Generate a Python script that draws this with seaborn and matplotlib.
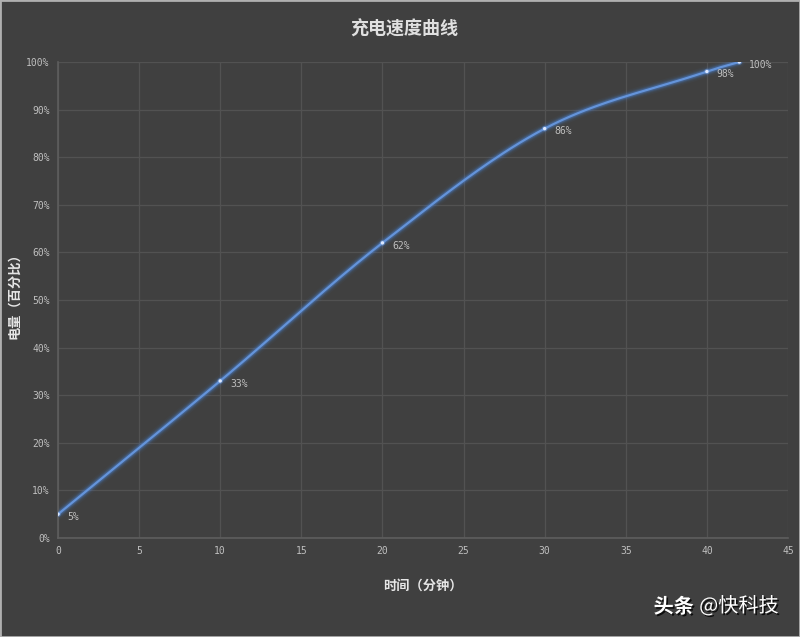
import numpy as np
import pandas as pd
import matplotlib
matplotlib.use('Agg')
import matplotlib.pyplot as plt
import matplotlib.patheffects as pe
from matplotlib.ticker import PercentFormatter
import seaborn as sns

# dữ liệu: thời gian (phút) và mức pin (%)
minutes = [0, 10, 20, 30, 40, 42]
battery = [5, 33, 62, 86, 98, 100]
labels = ['5%', '33%', '62%', '86%', '98%', '100%']

df = pd.DataFrame({'minutes': minutes, 'battery': battery})

BG = '#404040'
GRID = '#525252'
TXT = '#bfbfbf'
LINE = '#6494da'

sns.set_theme(style='dark')
plt.rcParams['font.family'] = ['Noto Sans CJK SC', 'DejaVu Sans']
plt.rcParams['axes.unicode_minus'] = False

fig = plt.figure(figsize=(8, 6.37), dpi=100, facecolor=BG)
ax = fig.add_axes([0.0725, 0.1554, 0.9125, 0.7473])
ax.set_facecolor(BG)


def smooth(xs, ys, n=40):
    # đường cong mượt (Hermite, độ dốc theo hiệu hữu hạn) giống Excel
    x = np.asarray(xs, float)
    y = np.asarray(ys, float)
    m = np.empty_like(y)
    m[1:-1] = (y[2:] - y[:-2]) / (x[2:] - x[:-2])
    m[0] = (y[1] - y[0]) / (x[1] - x[0])
    m[-1] = (y[-1] - y[-2]) / (x[-1] - x[-2])
    out_x, out_y = [], []
    t = np.linspace(0, 1, n)
    for i in range(len(x) - 1):
        h = x[i + 1] - x[i]
        h00 = 2 * t ** 3 - 3 * t ** 2 + 1
        h10 = t ** 3 - 2 * t ** 2 + t
        h01 = -2 * t ** 3 + 3 * t ** 2
        h11 = t ** 3 - t ** 2
        out_x.extend(x[i] + h * t)
        out_y.extend(h00 * y[i] + h10 * h * m[i] + h01 * y[i + 1] + h11 * h * m[i + 1])
    return np.array(out_x), np.array(out_y)


sx, sy = smooth(df['minutes'], df['battery'])

# hiệu ứng phát sáng
for w, a in [(8, 0.05), (6, 0.09), (4.5, 0.18), (3.2, 0.35)]:
    ax.plot(sx, sy, color='#4a7cc8', lw=w, alpha=a, solid_capstyle='round', zorder=2)
ax.plot(sx, sy, color=LINE, lw=1.6, solid_capstyle='round', zorder=3)

sns.scatterplot(data=df, x='minutes', y='battery', ax=ax, s=16, color='#6f9de0',
                alpha=0.45, edgecolor='none', zorder=4)
sns.scatterplot(data=df, x='minutes', y='battery', ax=ax, s=6, color='#dce8ff',
                edgecolor='none', zorder=5)

for x, y, lab in zip(minutes, battery, labels):
    ax.annotate(lab, (x, y), xytext=(7, -2), textcoords='offset points',
                fontsize=7, color=TXT, va='center', ha='left',
                family=['DejaVu Sans Mono', 'DejaVu Sans'])

ax.set_xlim(0, 45)
ax.set_ylim(0, 100)
ax.set_xticks(range(0, 46, 5))
ax.set_yticks(range(0, 101, 10))
ax.yaxis.set_major_formatter(PercentFormatter(decimals=0))
ax.tick_params(colors=TXT, labelsize=7, length=0, pad=6)
for t in ax.get_xticklabels() + ax.get_yticklabels():
    t.set_family(['DejaVu Sans Mono', 'DejaVu Sans'])
ax.grid(True, color=GRID, lw=0.9)
for s in ['top', 'right']:
    ax.spines[s].set_visible(False)
for s in ['left', 'bottom']:
    ax.spines[s].set_color('#5e5e5e')
    ax.spines[s].set_linewidth(1.2)

ax.set_xlabel('时间（分钟）', color='#e6e6e6', fontsize=9.5, fontweight='bold', labelpad=16)
ax.set_ylabel('')
fig.text(0.018, 0.54, '电量（百分比）', rotation=90, ha='center', va='center',
         color='#e6e6e6', fontsize=9.5, fontweight='bold')

fig.text(0.505, 0.955, '充电速度曲线', ha='center', va='center', color='#e0e0e0',
         fontsize=13, fontweight='bold')

shadow = [pe.withSimplePatchShadow(offset=(1.2, -1.2), shadow_rgbFace='black', alpha=0.8)]
fig.text(0.817, 0.048, '头条', ha='left', va='center', color='white', fontsize=14.5,
         fontweight='bold', path_effects=shadow)
fig.text(0.874, 0.048, '@快科技', ha='left', va='center', color='white', fontsize=14.5,
         path_effects=shadow)

# viền khung ảnh
fig.patches.append(plt.Rectangle((0, 0), 1, 1, transform=fig.transFigure, fill=False,
                                 edgecolor='#b0b0b0', lw=2))

fig.savefig('out.png', dpi=100, facecolor=BG)
